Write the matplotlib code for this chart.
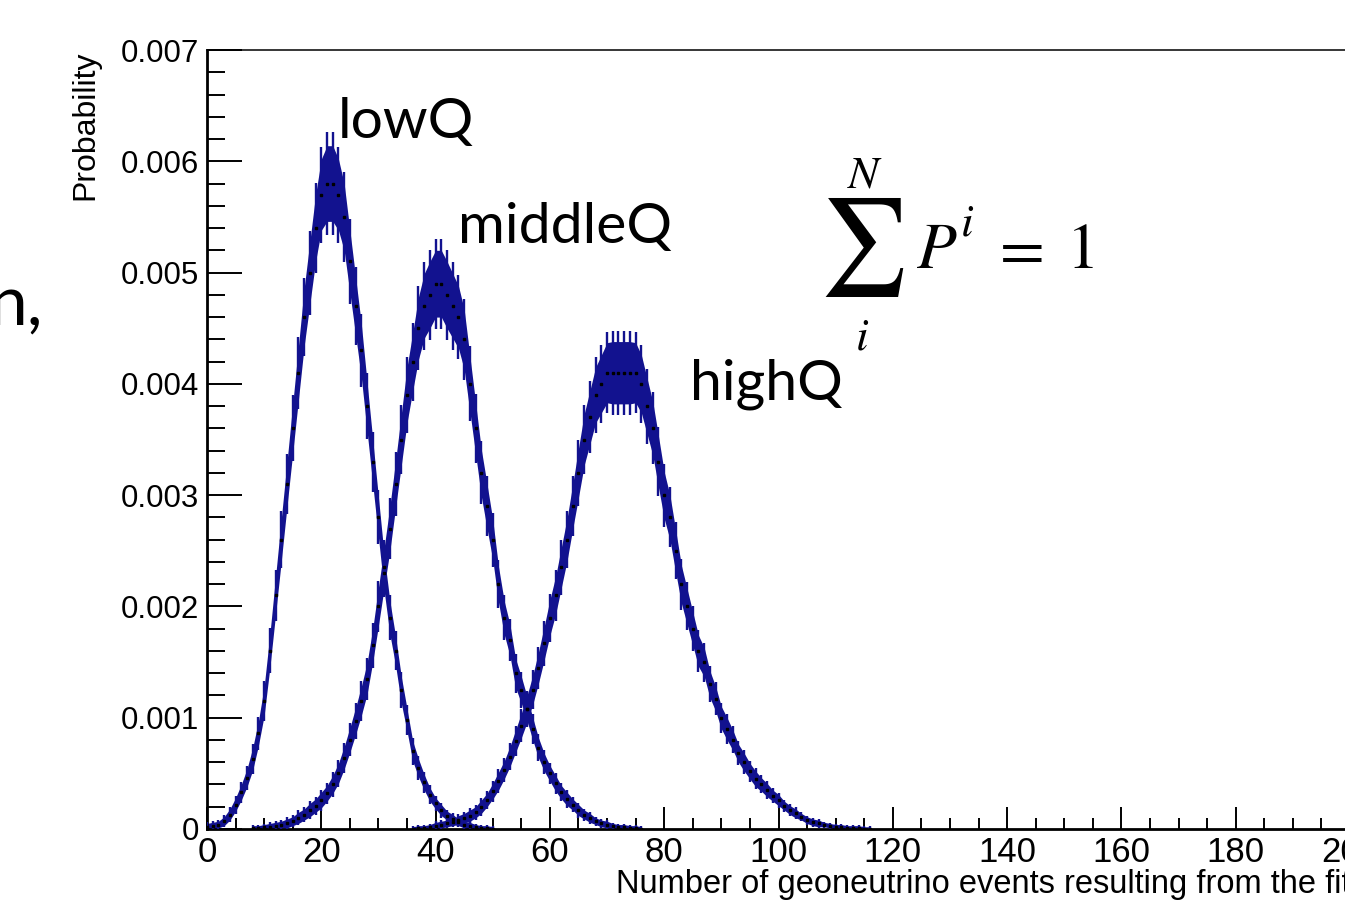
import numpy as np
import matplotlib
matplotlib.use("Agg")
import matplotlib.pyplot as plt
from matplotlib.ticker import MultipleLocator, FixedLocator

# ---------------- data ----------------
low_x = np.arange(0, 51)
low_p = [0.00002, 0.00003, 0.00004, 0.00007, 0.00013, 0.00022, 0.00033, 0.00046, 0.00063, 0.00086,
         0.00115, 0.0016, 0.0021, 0.0026, 0.0031, 0.0036, 0.0041, 0.0046, 0.0050, 0.0054,
         0.0057, 0.0058, 0.0058, 0.0057, 0.0055, 0.0051, 0.0047, 0.0043, 0.0038, 0.0033,
         0.0028, 0.0023, 0.0019, 0.0016, 0.00125, 0.00098, 0.0007, 0.00055, 0.00042, 0.00031,
         0.00023, 0.00017, 0.00012, 0.00009, 0.00006, 0.00004, 0.00003, 0.00002, 0.00001, 0.00001, 0.0]
low_e = [0.00003, 0.00003, 0.00003, 0.00004, 0.00005, 0.00006, 0.00007, 0.00008, 0.0001, 0.00011,
         0.00013, 0.00015, 0.00017, 0.00019, 0.0002, 0.00022, 0.00024, 0.00026, 0.00028, 0.0003,
         0.00032, 0.00034, 0.00034, 0.00032, 0.0003, 0.00028, 0.00026, 0.00024, 0.00022, 0.0002,
         0.00018, 0.00016, 0.00015, 0.00013, 0.00012, 0.0001, 0.00009, 0.00008, 0.00007, 0.00006,
         0.00005, 0.00005, 0.00004, 0.00004, 0.00003, 0.00003, 0.00003, 0.00002, 0.00002, 0.00002, 0.00002]

mid_x = np.arange(8, 77)
mid_p = [0.00001, 0.00001, 0.00002, 0.00002, 0.00003, 0.00004, 0.00005, 0.00007, 0.0001, 0.00013,
         0.00017, 0.00021, 0.00026, 0.00032, 0.0004, 0.0005, 0.00064, 0.0008, 0.00097, 0.00115,
         0.00135, 0.00165, 0.002, 0.00235, 0.0027, 0.0031, 0.0035, 0.0039, 0.0042, 0.0045,
         0.0047, 0.0048, 0.0049, 0.0049, 0.0048, 0.0047, 0.0046, 0.0044, 0.004, 0.0036,
         0.0032, 0.0029, 0.0026, 0.0022, 0.0019, 0.0017, 0.0014, 0.00125, 0.00108, 0.0009,
         0.00073, 0.0006, 0.0005, 0.00041, 0.00033, 0.00027, 0.00022, 0.00017, 0.00013, 0.0001,
         0.00007, 0.00005, 0.00004, 0.00003, 0.00002, 0.00002, 0.00001, 0.00001, 0.0]
mid_e = [0.00002, 0.00002, 0.00002, 0.00003, 0.00003, 0.00003, 0.00004, 0.00004, 0.00005, 0.00005,
         0.00006, 0.00006, 0.00007, 0.00007, 0.00008, 0.00009, 0.0001, 0.00011, 0.00012, 0.00013,
         0.00014, 0.00015, 0.00017, 0.00018, 0.0002, 0.00021, 0.00023, 0.00025, 0.00026, 0.00028,
         0.00029, 0.0003, 0.0003, 0.0003, 0.0003, 0.00029, 0.00028, 0.00027, 0.00025, 0.00023,
         0.00021, 0.0002, 0.00018, 0.00016, 0.00015, 0.00014, 0.00013, 0.00012, 0.00011, 0.0001,
         0.00009, 0.00008, 0.00007, 0.00007, 0.00006, 0.00006, 0.00005, 0.00005, 0.00004, 0.00004,
         0.00003, 0.00003, 0.00003, 0.00002, 0.00002, 0.00002, 0.00002, 0.00002, 0.00002]

high_x = np.arange(36, 117)
high_p = [0.0, 0.00001, 0.00001, 0.00002, 0.00003, 0.00004, 0.00005, 0.00006, 0.00008, 0.0001,
          0.00012, 0.00015, 0.0002, 0.00026, 0.00034, 0.00043, 0.00053, 0.00065, 0.00079, 0.00093,
          0.00108, 0.00125, 0.00145, 0.00167, 0.0019, 0.0021, 0.00235, 0.0026, 0.0029, 0.0032,
          0.0035, 0.0037, 0.0039, 0.004, 0.0041, 0.0041, 0.0041, 0.0041, 0.0041, 0.0041,
          0.004, 0.0038, 0.0036, 0.0033, 0.003, 0.0028, 0.0025, 0.0022, 0.002, 0.0018,
          0.0016, 0.0015, 0.0013, 0.00117, 0.001, 0.0009, 0.0008, 0.00068, 0.0006, 0.00052,
          0.00045, 0.0004, 0.00035, 0.0003, 0.00026, 0.00021, 0.00017, 0.00014, 0.00011, 0.00008,
          0.00006, 0.00005, 0.00004, 0.00003, 0.00002, 0.00002, 0.00001, 0.00001, 0.00001, 0.0, 0.0]
high_e = [0.00002, 0.00002, 0.00002, 0.00002, 0.00003, 0.00003, 0.00003, 0.00003, 0.00004, 0.00004,
          0.00005, 0.00005, 0.00006, 0.00006, 0.00007, 0.00008, 0.00008, 0.00009, 0.0001, 0.00011,
          0.00012, 0.00013, 0.00014, 0.00015, 0.00016, 0.00017, 0.00018, 0.00019, 0.0002, 0.00022,
          0.00023, 0.00024, 0.00025, 0.00026, 0.00027, 0.00028, 0.00028, 0.00028, 0.00028, 0.00027,
          0.00026, 0.00025, 0.00024, 0.00023, 0.00021, 0.0002, 0.00019, 0.00017, 0.00016, 0.00015,
          0.00014, 0.00013, 0.00012, 0.00011, 0.0001, 0.0001, 0.00009, 0.00008, 0.00008, 0.00007,
          0.00007, 0.00006, 0.00006, 0.00005, 0.00005, 0.00004, 0.00004, 0.00004, 0.00003, 0.00003,
          0.00003, 0.00003, 0.00002, 0.00002, 0.00002, 0.00002, 0.00002, 0.00002, 0.00002, 0.00002, 0.00002]

series_names = ["lowQ", "middleQ", "highQ"]
x_ticks = [0, 20, 40, 60, 80, 100, 120, 140, 160, 180, 200]
y_ticks = [0, 0.001, 0.002, 0.003, 0.004, 0.005, 0.006, 0.007]
y_ticklabels = ["0", "0.001", "0.002", "0.003", "0.004", "0.005", "0.006", "0.007"]
x_title = "Number of geoneutrino events resulting from the fit"
y_title = "Probability"

# ---------------- figure ----------------
W, H = 1345, 900
fig = plt.figure(figsize=(W / 100, H / 100), dpi=100)
fig.patch.set_facecolor("white")

left_px, right_px, top_px, bot_px = 207, 1350, 50, 829
ax = fig.add_axes([left_px / W, 1 - bot_px / H, (right_px - left_px) / W, (bot_px - top_px) / H])

blue = "#12128f"
for xs, ps, es in [(low_x, low_p, low_e), (mid_x, mid_p, mid_e), (high_x, high_p, high_e)]:
    ps = np.array(ps); es = np.array(es)
    ax.fill_between(xs, ps - es, ps + es, color=blue, lw=0, zorder=2)
    ax.errorbar(xs, ps, yerr=es * 1.35, fmt="none", ecolor=blue, elinewidth=1.7, zorder=3)
    ax.plot(xs, ps, ls="none", marker="s", ms=1.6, color="black", zorder=4)

ax.set_xlim(0, 200)
ax.set_ylim(0, 0.007)

tick_font = ["Liberation Sans", "DejaVu Sans"]

ax.xaxis.set_major_locator(FixedLocator(x_ticks))
ax.xaxis.set_minor_locator(MultipleLocator(5))
ax.yaxis.set_major_locator(FixedLocator(y_ticks))
ax.yaxis.set_minor_locator(MultipleLocator(0.0002))
ax.set_xticklabels([str(t) for t in x_ticks], fontsize=25, family=tick_font)
ax.set_yticklabels(y_ticklabels, fontsize=22.5, family=tick_font)

ax.tick_params(axis="x", which="major", direction="in", length=16, width=1.4, pad=5, top=False)
ax.tick_params(axis="x", which="minor", direction="in", length=8, width=1.4, top=False)
ax.tick_params(axis="y", which="major", direction="in", length=25, width=1.4, pad=6, right=False)
ax.tick_params(axis="y", which="minor", direction="in", length=13, width=1.4, right=False)

for s in ["left", "bottom"]:
    ax.spines[s].set_linewidth(2.0)
ax.spines["top"].set_linewidth(1.1)
ax.spines["right"].set_visible(False)

ax.set_xlabel(x_title, fontsize=23.5, family=tick_font, loc="right", labelpad=0)
ax.set_ylabel(y_title, fontsize=23, family=tick_font, loc="top", labelpad=14)

# curve labels
lab_font = ["Lato", "DejaVu Sans"]
fig.text(338 / W, 1 - 138 / H, series_names[0], fontsize=41, family=lab_font, ha="left", va="baseline")
fig.text(458 / W, 1 - 243 / H, series_names[1], fontsize=41, family=lab_font, ha="left", va="baseline")
fig.text(690 / W, 1 - 400 / H, series_names[2], fontsize=41, family=lab_font, ha="left", va="baseline")

# partial slide text at left edge
fig.text(43 / W, 1 - 325 / H, "n,", fontsize=50, family=lab_font, ha="right", va="baseline")

# sum formula
plt.rcParams["mathtext.fontset"] = "stix"
fig.text(862 / W, 1 - 247 / H, r"$\sum$", fontsize=70, ha="center", va="center")
fig.text(865 / W, 1 - 187 / H, r"$N$", fontsize=33, ha="center", va="baseline")
fig.text(862 / W, 1 - 350 / H, r"$i$", fontsize=33, ha="center", va="baseline")
fig.text(916 / W, 1 - 268 / H, r"$P$", fontsize=47, ha="left", va="baseline")
fig.text(960 / W, 1 - 236 / H, r"$i$", fontsize=33, ha="left", va="baseline")
fig.text(990 / W, 1 - 268 / H, r"$=$", fontsize=47, ha="left", va="baseline")
fig.text(1066 / W, 1 - 268 / H, r"$1$", fontsize=47, ha="left", va="baseline")

fig.savefig("out.png", dpi=100, facecolor="white")
